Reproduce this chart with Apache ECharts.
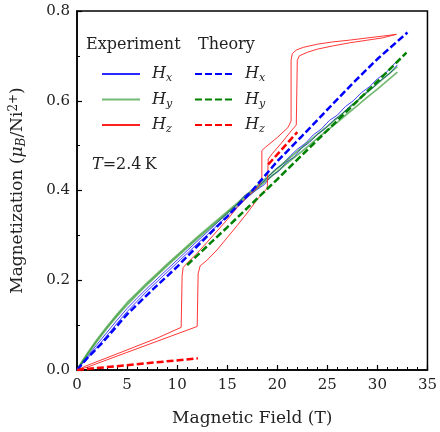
<!DOCTYPE html>
<html>
<head>
<meta charset="utf-8">
<script src="https://cdn.jsdelivr.net/npm/echarts@6/dist/echarts.min.js"></script>
<style>
  html, body { margin: 0; padding: 0; background: #fff; }
  #chart { width: 440px; height: 432px; }
</style>
</head>
<body>
<div id="chart"></div>
<script>
// Field values in tesla, magnetization in mu_B per Ni2+.
// Measured curves: each field direction was swept up and down.
const expHxUp = [[0,0],[0.5,0.015],[1,0.029],[2,0.057],[3,0.084],[4,0.111],[5,0.137],[6,0.160],[7,0.182],[8,0.203],[9,0.224],[10,0.245],[11,0.266],[12,0.287],[13,0.307],[14,0.328],[15,0.349],[16,0.370],[16.8,0.390],[17.5,0.398],[18.3,0.413],[19,0.428],[19.8,0.447],[20.5,0.458],[21.3,0.477],[22,0.492],[22.8,0.505],[23.6,0.524],[24.4,0.537],[25.2,0.556],[26,0.568],[26.8,0.587],[27.6,0.600],[28.4,0.618],[29.2,0.631],[30,0.649],[30.8,0.661],[31.5,0.678],[32,0.689]];
const expHxDown = [[0,0],[0.5,0.013],[1,0.025],[2,0.051],[3,0.077],[4,0.104],[5,0.130],[6,0.153],[7,0.176],[8,0.197],[9,0.218],[10,0.239],[11,0.260],[12,0.281],[13,0.301],[14,0.322],[15,0.343],[16,0.364],[17.2,0.388],[17.9,0.401],[18.7,0.413],[19.4,0.432],[20.2,0.444],[20.9,0.463],[21.7,0.475],[22.4,0.494],[23.2,0.507],[24,0.525],[24.8,0.538],[25.6,0.556],[26.4,0.569],[27.2,0.587],[28,0.600],[28.8,0.617],[29.6,0.630],[30.4,0.647],[31.2,0.660],[32,0.680]];
const expHyUp = [[0,0],[0.5,0.019],[1,0.036],[2,0.068],[3,0.097],[4,0.124],[5,0.150],[6,0.172],[7,0.194],[8,0.215],[9,0.236],[10,0.256],[11,0.276],[12,0.296],[13,0.315],[14,0.334],[15,0.353],[16,0.372],[17,0.392],[18,0.411],[19,0.430],[20,0.449],[21,0.468],[22,0.487],[23,0.506],[24,0.525],[25,0.543],[26,0.562],[27,0.581],[28,0.600],[29,0.619],[30,0.638],[31,0.657],[32,0.676]];
const expHyDown = [[0,0],[0.5,0.017],[1,0.033],[2,0.064],[3,0.093],[4,0.120],[5,0.145],[6,0.168],[7,0.190],[8,0.211],[9,0.232],[10,0.252],[11,0.272],[12,0.292],[13,0.311],[14,0.330],[15,0.349],[16,0.368],[17,0.387],[18,0.405],[19,0.424],[20,0.442],[21,0.461],[22,0.479],[23,0.497],[24,0.516],[25,0.534],[26,0.552],[27,0.571],[28,0.589],[29,0.608],[30,0.626],[31,0.645],[32,0.664]];
const expHzUp = [[0,0],[1,0.006],[4,0.031],[8,0.064],[12.0,0.097],[12.1,0.215],[12.3,0.232],[13,0.245],[14,0.268],[15,0.295],[16,0.322],[17,0.350],[18,0.380],[19.0,0.405],[19.1,0.470],[19.5,0.482],[20.5,0.508],[21.4,0.533],[21.9,0.546],[22.0,0.690],[22.2,0.700],[23,0.708],[24,0.715],[25.5,0.722],[27.2,0.729],[29,0.735],[30.5,0.740],[31.9,0.748]];
const expHzDown = [[31.9,0.748],[30.5,0.744],[29,0.740],[27.2,0.735],[25.5,0.731],[24,0.726],[22.6,0.719],[21.9,0.713],[21.5,0.705],[21.38,0.690],[21.38,0.555],[21.06,0.540],[20,0.518],[18.8,0.496],[18.46,0.489],[18.46,0.424],[18.14,0.409],[17,0.386],[16,0.362],[15,0.335],[14,0.310],[13,0.285],[12,0.260],[10.9,0.236],[10.6,0.228],[10.5,0.210],[10.4,0.095],[10.3,0.091],[8,0.071],[4,0.036],[1,0.010],[0,0]];

// Calculated curves.
const theoryHx = [[0,0],[1,0.026],[2.5,0.060],[5,0.124],[7.5,0.178],[10,0.230],[12.5,0.287],[15,0.342],[17.5,0.400],[20,0.465],[22.5,0.522],[25,0.580],[27.5,0.638],[30,0.693],[33,0.752]];
const theoryHy = [[11,0.234],[15,0.318],[20,0.425],[25,0.534],[30,0.643],[32.9,0.707]];
const theoryHzLow = [[0,0],[12.07,0.026]];
const theoryHzHigh = [[19.1,0.458],[22.0,0.530]];

// Axis ticks.
const xTicks = [0, 5, 10, 15, 20, 25, 30, 35];
const yTicks = [0.0, 0.2, 0.4, 0.6, 0.8];

const SERIF = 'DejaVu Serif';
const INK = '#222';
const DASH = [7, 3];

const names = {
  ex: 'Experiment Hx', ey: 'Experiment Hy', ez: 'Experiment Hz',
  tx: 'Theory Hx', ty: 'Theory Hy', tz: 'Theory Hz'
};

function curve(name, data, color, width, dashed) {
  return {
    type: 'line', name: name, data: data,
    symbol: 'none', showSymbol: false, animation: false,
    lineStyle: { color: color, width: width, type: dashed ? DASH : 'solid' },
    itemStyle: { color: color },
    emphasis: { disabled: true }
  };
}

const series = [
  curve(names.ex, expHxUp, '#2a2aff', 0.9, false),
  curve(names.ex, expHxDown, '#2a2aff', 0.9, false),
  curve(names.ey, expHyUp, 'rgba(0,128,0,0.55)', 1.7, false),
  curve(names.ey, expHyDown, 'rgba(0,128,0,0.55)', 1.7, false),
  curve(names.ez, expHzUp, '#ff2020', 0.9, false),
  curve(names.ez, expHzDown, '#ff2020', 0.9, false),
  curve(names.tx, theoryHx, '#0000ff', 2.5, true),
  curve(names.ty, theoryHy, '#008000', 2.5, true),
  curve(names.tz, theoryHzLow, '#ff0000', 2.5, true),
  curve(names.tz, theoryHzHigh, '#ff0000', 2.5, true)
];

const legendRich = {
  h: { fontFamily: SERIF, fontStyle: 'italic', fontSize: 16, color: INK, lineHeight: 20, padding: [0, 0, 0, 7] },
  s: { fontFamily: SERIF, fontStyle: 'italic', fontSize: 11, color: INK, lineHeight: 8, verticalAlign: 'bottom' }
};
function legendLabel(name) {
  return '{h|H}{s|' + name.slice(-1) + '}';
}
function legendBlock(left, items) {
  return {
    orient: 'vertical', left: left, top: 61,
    itemWidth: 38, itemHeight: 14, itemGap: 7.5,
    selectedMode: false,
    itemStyle: { opacity: 0 },
    data: items,
    formatter: legendLabel,
    textStyle: { rich: legendRich }
  };
}

const option = {
  backgroundColor: '#fff',
  animation: false,
  grid: { left: 74, right: 8, top: 11, bottom: 55, show: true, borderColor: '#000', borderWidth: 1.5 },
  xAxis: {
    type: 'value', min: xTicks[0], max: xTicks[xTicks.length - 1], interval: 5,
    axisLine: { show: true, onZero: false, lineStyle: { color: '#000', width: 1.5 } },
    axisTick: { show: true, inside: true, length: 5, lineStyle: { color: '#000', width: 1.2 } },
    minorTick: { show: true, splitNumber: 5, length: 3, lineStyle: { color: '#000', width: 1 } },
    splitLine: { show: false },
    axisLabel: { margin: 8, fontFamily: SERIF, fontSize: 15, color: INK },
    name: 'Magnetic Field (T)', nameLocation: 'middle', nameGap: 40,
    nameTextStyle: { fontFamily: SERIF, fontSize: 17, color: INK }
  },
  yAxis: {
    type: 'value', min: yTicks[0], max: yTicks[yTicks.length - 1], interval: 0.2,
    axisLine: { show: true, onZero: false, lineStyle: { color: '#000', width: 1.5 } },
    axisTick: { show: true, inside: true, length: 5, lineStyle: { color: '#000', width: 1.2 } },
    minorTick: { show: true, splitNumber: 2, length: 3, lineStyle: { color: '#000', width: 1 } },
    splitLine: { show: false },
    axisLabel: { margin: 7, fontFamily: SERIF, fontSize: 15, color: INK, formatter: v => v.toFixed(1) },
    name: 'Magnetization ({mu|μ}{sub|B}/Ni{sup|2+})', nameLocation: 'middle', nameGap: 49, nameRotate: 90,
    nameTextStyle: {
      fontFamily: SERIF, fontSize: 17, color: INK, lineHeight: 20,
      rich: {
        mu: { fontFamily: SERIF, fontStyle: 'italic', fontSize: 17, color: INK, lineHeight: 20 },
        sub: { fontFamily: SERIF, fontStyle: 'italic', fontSize: 12, color: INK, lineHeight: 8, verticalAlign: 'bottom' },
        sup: { fontFamily: SERIF, fontSize: 12, color: INK, lineHeight: 8, verticalAlign: 'top' }
      }
    }
  },
  legend: [
    legendBlock(96, [names.ex, names.ey, names.ez]),
    legendBlock(189, [names.tx, names.ty, names.tz])
  ],
  graphic: [
    { type: 'text', left: 86, top: 37, style: { text: 'Experiment', fontFamily: SERIF, fontSize: 16, fill: INK } },
    { type: 'text', left: 198, top: 37, style: { text: 'Theory', fontFamily: SERIF, fontSize: 16, fill: INK } },
    { type: 'text', left: 92, top: 157, style: {
        text: '{i|T}=2.4\u2009K', fontFamily: SERIF, fontSize: 16, fill: INK,
        rich: { i: { fontFamily: SERIF, fontStyle: 'italic', fontSize: 16, fill: INK } }
      } }
  ],
  series: series
};

const chart = echarts.init(document.getElementById('chart'), null, { renderer: 'canvas' });
chart.setOption(option);
</script>
</body>
</html>
